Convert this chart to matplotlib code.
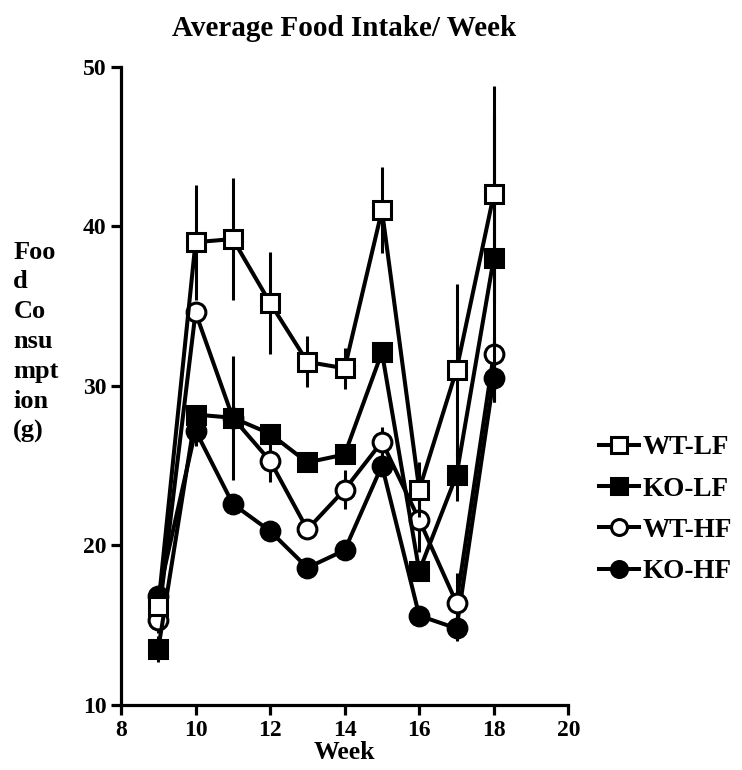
import matplotlib
matplotlib.use("Agg")
import matplotlib.pyplot as plt

# === DATA ===
weeks = [9, 10, 11, 12, 13, 14, 15, 16, 17, 18]

wt_lf = [16.2, 39.0, 39.2, 35.2, 31.5, 31.1, 41.0, 23.5, 31.0, 42.0]
wt_lf_err = [0.6, 3.6, 3.8, 3.2, 1.6, 1.3, 2.7, 1.7, 5.4, 6.8]

ko_lf = [13.5, 28.2, 28.0, 27.0, 25.2, 25.7, 32.1, 18.4, 24.4, 38.0]
ko_lf_err = [0.8, 0.6, 0.4, 0.4, 0.3, 0.3, 0.5, 0.5, 1.6, 9.0]

wt_hf = [15.3, 34.6, 28.0, 25.3, 21.0, 23.5, 26.5, 21.6, 16.4, 32.0]
wt_hf_err = [0.8, 0.5, 3.9, 1.3, 0.3, 1.2, 0.9, 2.0, 1.9, 1.0]

ko_hf = [16.8, 27.2, 22.6, 20.9, 18.6, 19.7, 25.0, 15.6, 14.8, 30.5]
ko_hf_err = [0.5, 1.0, 0.3, 0.3, 0.3, 0.3, 0.5, 0.3, 0.8, 1.5]

labels = ["WT-LF", "KO-LF", "WT-HF", "KO-HF"]
y_ticks = [10, 20, 30, 40, 50]
x_ticks = [8, 10, 12, 14, 16, 18, 20]

# === STYLE ===
plt.rcParams["font.family"] = ["Liberation Serif", "DejaVu Serif"]
plt.rcParams["font.weight"] = "bold"

fig = plt.figure(figsize=(7.42, 7.70), dpi=100)
ax = fig.add_axes([0.163, 0.0844, 0.603, 0.829])

series = [
    (wt_lf, wt_lf_err, "s", "white"),
    (ko_lf, ko_lf_err, "s", "black"),
    (wt_hf, wt_hf_err, "o", "white"),
    (ko_hf, ko_hf_err, "o", "black"),
]

for i, (vals, errs, mk, face) in enumerate(series):
    ax.errorbar(weeks, vals, yerr=errs, fmt="-", color="black", lw=2.9,
                elinewidth=2.2, capsize=0, marker=mk, markersize=13.5,
                markerfacecolor=face, markeredgecolor="black",
                markeredgewidth=2.2, label=labels[i], zorder=10 - i)

ax.set_xlim(8, 20)
ax.set_ylim(10, 50)
ax.set_xticks(x_ticks)
ax.set_yticks(y_ticks)
for side in ["top", "right"]:
    ax.spines[side].set_visible(False)
for side in ["left", "bottom"]:
    ax.spines[side].set_linewidth(2.3)
ax.tick_params(width=2.3, length=7, labelsize=17, direction="out")
for lab in ax.get_xticklabels() + ax.get_yticklabels():
    lab.set_fontweight("bold")

ax.set_xlabel("Week", fontsize=18.5, fontweight="bold", labelpad=0)

fig.text(0.464, 0.963, "Average Food Intake/ Week", ha="center", va="center",
         fontsize=21, fontweight="bold")
fig.text(0.018, 0.556, "Foo\nd\nCo\nnsu\nmpt\nion\n(g)", ha="left", va="center",
         fontsize=19, fontweight="bold", linespacing=1.38)

handles, labs = ax.get_legend_handles_labels()
handles = [h[0] for h in handles]
fig.legend(handles, labs, loc="center left", bbox_to_anchor=(0.775, 0.338),
           frameon=False, prop={"size": 19.5, "weight": "bold"},
           handlelength=1.45, handletextpad=0.15, labelspacing=0.6,
           markerscale=0.85)

plt.savefig("out.png", dpi=100)
